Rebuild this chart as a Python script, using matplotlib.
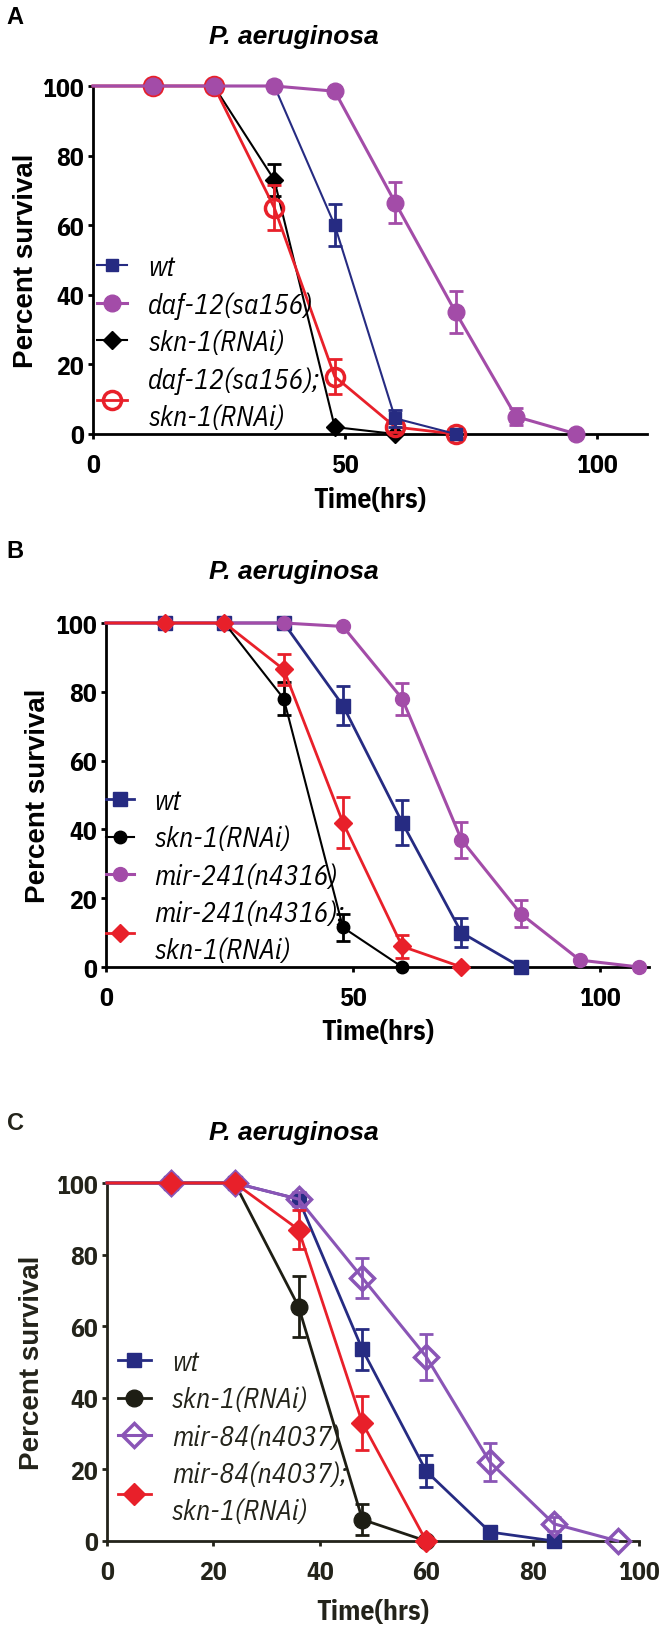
import numpy as np
import matplotlib
matplotlib.use("Agg")
import matplotlib.pyplot as plt

# survival data, hours vs percent survival
# panel A
a_wt_t = [0, 12, 24, 36, 48, 60, 72]
a_wt_y = [100, 100, 100, 100, 60, 4.5, 0]
a_wt_e = [0, 0, 0, 0, 6, 2.5, 0]
a_daf_t = [0, 12, 24, 36, 48, 60, 72, 84, 96]
a_daf_y = [100, 100, 100, 100, 98.5, 66.5, 35, 5, 0]
a_daf_e = [0, 0, 0, 0, 0, 6, 6, 2.5, 0]
a_skn_t = [0, 12, 24, 36, 48, 60]
a_skn_y = [100, 100, 100, 73, 2, 0]
a_skn_e = [0, 0, 0, 4.5, 0, 0]
a_dbl_t = [0, 12, 24, 36, 48, 60, 72]
a_dbl_y = [100, 100, 100, 65, 16.5, 2, 0]
a_dbl_e = [0, 0, 0, 6.5, 5, 1.5, 0]

# panel B
b_wt_t = [0, 12, 24, 36, 48, 60, 72, 84]
b_wt_y = [100, 100, 100, 100, 76, 42, 10, 0]
b_wt_e = [0, 0, 0, 0, 5.7, 6.6, 4.2, 0]
b_skn_t = [0, 12, 24, 36, 48, 60]
b_skn_y = [100, 100, 100, 78, 11.5, 0]
b_skn_e = [0, 0, 0, 4.8, 3.9, 0]
b_mir_t = [0, 12, 24, 36, 48, 60, 72, 84, 96, 108]
b_mir_y = [100, 100, 100, 100, 99, 78, 37, 15.5, 2, 0]
b_mir_e = [0, 0, 0, 0, 0, 4.6, 5.2, 4, 0, 0]
b_dbl_t = [0, 12, 24, 36, 48, 60, 72]
b_dbl_y = [100, 100, 100, 86.5, 42, 6, 0]
b_dbl_e = [0, 0, 0, 4.6, 7.3, 3.4, 0]

# panel C
c_wt_t = [0, 12, 24, 36, 48, 60, 72, 84]
c_wt_y = [100, 100, 100, 95.5, 53.5, 19.5, 2.5, 0]
c_wt_e = [0, 0, 0, 0, 5.6, 4.5, 0, 0]
c_skn_t = [0, 12, 24, 36, 48, 60]
c_skn_y = [100, 100, 100, 65.5, 6, 0]
c_skn_e = [0, 0, 0, 8.4, 4.3, 0]
c_mir_t = [0, 12, 24, 36, 48, 60, 72, 84, 96]
c_mir_y = [100, 100, 100, 95.5, 73.5, 51.5, 22, 4.8, 0]
c_mir_e = [0, 0, 0, 2, 5.5, 6.4, 5.3, 2, 0]
c_dbl_t = [0, 12, 24, 36, 48, 60]
c_dbl_y = [100, 100, 100, 87, 33, 0]
c_dbl_e = [0, 0, 0, 5.5, 7.5, 0]

NAVY = "#262b82"
PURPLE = "#a34ca8"
RED = "#e8202a"
VIOLET = "#8a55b6"
OLIVE = "#1e1e14"

NARROW = ["IBM Plex Sans Condensed", "DejaVu Sans"]
SANS = ["Liberation Sans", "DejaVu Sans"]

W, H = 664, 1631
fig = plt.figure(figsize=(W / 100, H / 100), dpi=100)


def px_axes(left, top, right, bottom):
    return fig.add_axes([left / W, 1 - bottom / H, (right - left) / W, (bottom - top) / H])


def curve(ax, t, y, e, color, marker, ms, lw, mfc=None, mew=1, z=2, label=None):
    t = np.array(t)
    y = np.array(y)
    e = np.array(e)
    line, = ax.plot(t, y, color=color, lw=lw, marker=marker, ms=ms,
                    mfc=mfc if mfc else color, mec=color, mew=mew,
                    markevery=list(range(1, len(t))), clip_on=False, zorder=z, label=label)
    m = e > 0
    ax.errorbar(t[m], y[m], yerr=e[m], fmt="none", ecolor=color, elinewidth=2,
                capsize=5, capthick=2, clip_on=False, zorder=z - 0.5)
    return line


def style(ax, xmax, xticks, txtcol, ylab_x, xlab_y, left, bottom, width, height):
    ax.set_xlim(0, xmax)
    ax.set_ylim(0, 100)
    ax.set_xticks(xticks)
    ax.set_yticks([0, 20, 40, 60, 80, 100])
    for s in ["top", "right"]:
        ax.spines[s].set_visible(False)
    for s in ["left", "bottom"]:
        ax.spines[s].set_linewidth(2)
        ax.spines[s].set_color(txtcol)
    ax.tick_params(direction="out", length=3.6, width=2, color=txtcol, labelcolor=txtcol)
    ax.tick_params(axis="y", pad=3)
    ax.tick_params(axis="x", pad=10)
    for lab in ax.get_xticklabels() + ax.get_yticklabels():
        lab.set_family(NARROW)
        lab.set_fontweight("bold")
        lab.set_fontsize(18.5)
    ax.set_ylabel("Percent survival", family=SANS, fontweight="bold", fontsize=20,
                  color=txtcol, va="center")
    ax.yaxis.set_label_coords((ylab_x - left) / width, 0.5)
    ax.set_xlabel("Time(hrs)", family=NARROW, fontweight="bold", fontsize=20,
                  color=txtcol, va="center")
    ax.xaxis.set_label_coords(0.5, -(xlab_y - bottom) / height)


def legend(ax, handles, xfrac, yfrac, hl, txtcol):
    leg = ax.legend(handles=handles, loc="upper left", bbox_to_anchor=(xfrac, yfrac),
                    frameon=False, borderpad=0, borderaxespad=0, handlelength=hl,
                    handletextpad=0.75, labelspacing=0.37,
                    prop={"family": NARROW, "style": "italic", "size": 20})
    for t in leg.get_texts():
        t.set_linespacing(1.5)
        t.set_color(txtcol)


def panel_text(letter, y, col):
    fig.text(15 / W, 1 - y / H, letter, ha="center", va="center", fontsize=17,
             fontweight="bold", family=SANS, color=col)


def title(y, col):
    fig.text(294 / W, 1 - y / H, "P. aeruginosa", ha="center", va="center", fontsize=19,
             fontweight="bold", style="italic", family=SANS, color=col)


# ---- Panel A ----
axA = px_axes(93, 87, 647, 435)
hA_skn = curve(axA, a_skn_t, a_skn_y, a_skn_e, "black", "D", 9, 1.5, z=3, label="skn-1(RNAi)")
hA_dbl = curve(axA, a_dbl_t, a_dbl_y, a_dbl_e, RED, "o", 13, 2, mfc="none", mew=2.5, z=4,
               label="daf-12(sa156);\nskn-1(RNAi)")
hA_wt = curve(axA, a_wt_t, a_wt_y, a_wt_e, NAVY, "s", 9, 1.5, z=5, label="wt")
hA_daf = curve(axA, a_daf_t, a_daf_y, a_daf_e, PURPLE, "o", 12, 2.2, z=6, label="daf-12(sa156)")
style(axA, 110, [0, 50, 100], "black", 26, 500, 93, 435, 554, 348)
legend(axA, [hA_wt, hA_daf, hA_skn, hA_dbl], 0.007, 0.517, 1.1, "black")
panel_text("A", 17, "black")
title(37, "black")

# ---- Panel B ----
axB = px_axes(106, 624, 649, 968)
hB_wt = curve(axB, b_wt_t, b_wt_y, b_wt_e, NAVY, "s", 10, 2, z=3, label="wt")
hB_skn = curve(axB, b_skn_t, b_skn_y, b_skn_e, "black", "o", 9, 1.5, z=4, label="skn-1(RNAi)")
hB_mir = curve(axB, b_mir_t, b_mir_y, b_mir_e, PURPLE, "o", 10, 2.2, z=5, label="mir-241(n4316)")
hB_dbl = curve(axB, b_dbl_t, b_dbl_y, b_dbl_e, RED, "D", 9, 2, z=6,
               label="mir-241(n4316);\nskn-1(RNAi)")
style(axB, 110, [0, 50, 100], "black", 38, 1033, 106, 968, 543, 344)
legend(axB, [hB_wt, hB_skn, hB_mir, hB_dbl], 0.0, 0.52, 1.0, "black")
panel_text("B", 552, "black")
title(572, "black")

# ---- Panel C ----
axC = px_axes(107, 1184, 639, 1542)
hC_wt = curve(axC, c_wt_t, c_wt_y, c_wt_e, NAVY, "s", 10, 2, z=3, label="wt")
hC_skn = curve(axC, c_skn_t, c_skn_y, c_skn_e, OLIVE, "o", 12, 2, z=4, label="skn-1(RNAi)")
hC_mir = curve(axC, c_mir_t, c_mir_y, c_mir_e, VIOLET, "D", 12, 2.2, mfc="none", mew=2.5, z=5,
               label="mir-84(n4037)")
hC_dbl = curve(axC, c_dbl_t, c_dbl_y, c_dbl_e, RED, "D", 11, 2, z=6,
               label="mir-84(n4037);\nskn-1(RNAi)")
style(axC, 100, [0, 20, 40, 60, 80, 100], "#23231a", 32, 1613, 107, 1542, 532, 358)
legend(axC, [hC_wt, hC_skn, hC_mir, hC_dbl], 0.02, 0.536, 1.2, "#23231a")
panel_text("C", 1123, "#23231a")
title(1133, "black")

fig.savefig("out.png", dpi=100)
